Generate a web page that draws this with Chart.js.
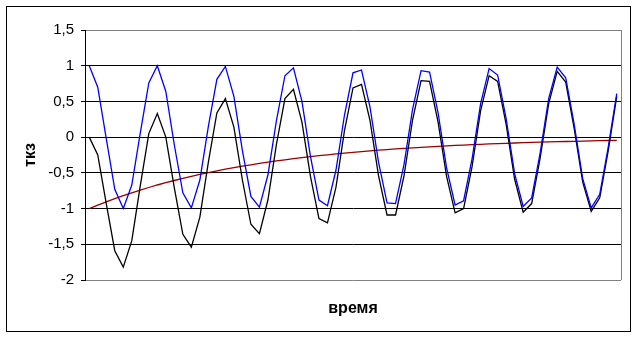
<!DOCTYPE html>
<html>
<head>
<meta charset="utf-8">
<script src="https://cdn.jsdelivr.net/npm/chart.js@4/dist/chart.umd.min.js"></script>
<style>
  html, body { margin: 0; padding: 0; background: #fff; }
  canvas { display: block; }
</style>
</head>
<body>
<canvas id="chart-area" width="638" height="338"></canvas>
<script>
// time steps (x axis, labels hidden)
var steps = [
    1, 2, 3, 4, 5, 6, 7, 8, 9, 10, 11, 12, 13, 14, 15, 16, 17, 18, 19, 20,
    21, 22, 23, 24, 25, 26, 27, 28, 29, 30, 31, 32, 33, 34, 35, 36, 37, 38, 39, 40,
    41, 42, 43, 44, 45, 46, 47, 48, 49, 50, 51, 52, 53, 54, 55, 56, 57, 58, 59, 60,
    61, 62, 63
];

// blue curve
var blueValues = [
    1.00, 0.70, -0.02, -0.73, -1.00, -0.67, 0.06, 0.76, 1.00, 0.64,
    -0.11, -0.78, -0.99, -0.60, 0.15, 0.81, 0.99, 0.57, -0.19, -0.83,
    -0.98, -0.53, 0.23, 0.86, 0.97, 0.50, -0.27, -0.88, -0.96, -0.46,
    0.31, 0.90, 0.94, 0.42, -0.35, -0.92, -0.93, -0.38, 0.39, 0.93,
    0.91, 0.34, -0.43, -0.95, -0.89, -0.30, 0.47, 0.96, 0.87, 0.26,
    -0.51, -0.97, -0.85, -0.22, 0.54, 0.98, 0.83, 0.18, -0.58, -0.99,
    -0.80, -0.14, 0.61
];

// black curve
var blackValues = [
    0.00, -0.25, -0.93, -1.59, -1.82, -1.45, -0.68, 0.05, 0.33, 0.00,
    -0.71, -1.36, -1.54, -1.12, -0.35, 0.34, 0.54, 0.14, -0.60, -1.22,
    -1.35, -0.88, -0.10, 0.54, 0.67, 0.21, -0.55, -1.14, -1.20, -0.70,
    0.09, 0.69, 0.74, 0.23, -0.54, -1.09, -1.09, -0.54, 0.24, 0.79,
    0.78, 0.21, -0.55, -1.06, -1.00, -0.41, 0.37, 0.86, 0.78, 0.18,
    -0.59, -1.05, -0.93, -0.29, 0.47, 0.92, 0.77, 0.12, -0.63, -1.04,
    -0.85, -0.19, 0.57
];

// dark red curve
var redValues = [
    -1.000, -0.951, -0.905, -0.861, -0.819, -0.779, -0.741, -0.705, -0.670, -0.638,
    -0.607, -0.577, -0.549, -0.522, -0.497, -0.472, -0.449, -0.427, -0.407, -0.387,
    -0.368, -0.350, -0.333, -0.317, -0.301, -0.287, -0.273, -0.259, -0.247, -0.235,
    -0.223, -0.212, -0.202, -0.192, -0.183, -0.174, -0.165, -0.157, -0.150, -0.142,
    -0.135, -0.129, -0.122, -0.116, -0.111, -0.105, -0.100, -0.095, -0.091, -0.086,
    -0.082, -0.078, -0.074, -0.071, -0.067, -0.064, -0.061, -0.058, -0.055, -0.052,
    -0.050, -0.047, -0.045
];

var yMin = -2;
var yMax = 1.5;
var yStep = 0.5;

// outer frame + right border of plot area
var framePlugin = {
    id: 'frame',
    beforeDatasetsDraw: function (chart) {
        var ctx = chart.ctx;
        var a = chart.chartArea;
        ctx.save();
        ctx.strokeStyle = '#808080';
        ctx.lineWidth = 1;
        ctx.beginPath();
        ctx.moveTo(Math.round(a.right) + 0.5, a.top);
        ctx.lineTo(Math.round(a.right) + 0.5, a.bottom);
        ctx.stroke();
        ctx.restore();
    },
    afterDraw: function (chart) {
        var ctx = chart.ctx;
        ctx.save();
        ctx.strokeStyle = '#000';
        ctx.lineWidth = 1;
        ctx.strokeRect(6.5, 6.5, 624, 325);
        ctx.restore();
    }
};

var config = {
    type: 'line',
    data: {
        labels: steps,
        datasets: [{
            data: blueValues,
            borderColor: '#0000ff',
            borderWidth: 1.3,
            pointRadius: 0,
            tension: 0,
            fill: false
        }, {
            data: blackValues,
            borderColor: '#000000',
            borderWidth: 1.3,
            pointRadius: 0,
            tension: 0,
            fill: false
        }, {
            data: redValues,
            borderColor: '#990000',
            borderWidth: 1.3,
            pointRadius: 0,
            tension: 0,
            fill: false
        }]
    },
    options: {
        responsive: false,
        animation: false,
        layout: {
            padding: { top: 30, right: 17, left: 0, bottom: 0 }
        },
        plugins: {
            legend: { display: false },
            tooltip: { enabled: false }
        },
        scales: {
            x: {
                type: 'category',
                offset: true,
                grid: { display: false },
                border: { display: false },
                ticks: { display: false },
                title: {
                    display: true,
                    text: 'время',
                    color: '#000',
                    font: { family: 'Liberation Sans, Arial, sans-serif', size: 16, weight: 'bold' },
                    padding: { top: 0, bottom: 20 }
                },
                afterFit: function (scale) { scale.height = 58; }
            },
            y: {
                min: yMin,
                max: yMax,
                ticks: {
                    stepSize: yStep,
                    color: '#000',
                    padding: 7,
                    font: { family: 'Liberation Sans, Arial, sans-serif', size: 15 },
                    callback: function (v) { return String(v).replace('.', ','); }
                },
                grid: {
                    color: function (c) {
                        var v = c.tick ? c.tick.value : 0;
                        return (v === yMax || v === yMin) ? '#808080' : '#000000';
                    },
                    tickColor: '#000000',
                    tickLength: 4,
                    lineWidth: 1
                },
                border: { display: true, color: '#000000', width: 1 },
                title: {
                    display: true,
                    text: 'ткз',
                    color: '#000',
                    font: { family: 'Liberation Sans, Arial, sans-serif', size: 16, weight: 'bold' },
                    padding: { top: 21, bottom: 0 }
                },
                afterFit: function (scale) { scale.width = 85; }
            }
        }
    },
    plugins: [framePlugin]
};

var ctx = document.getElementById('chart-area').getContext('2d');
var myChart = new Chart(ctx, config);
</script>
</body>
</html>
